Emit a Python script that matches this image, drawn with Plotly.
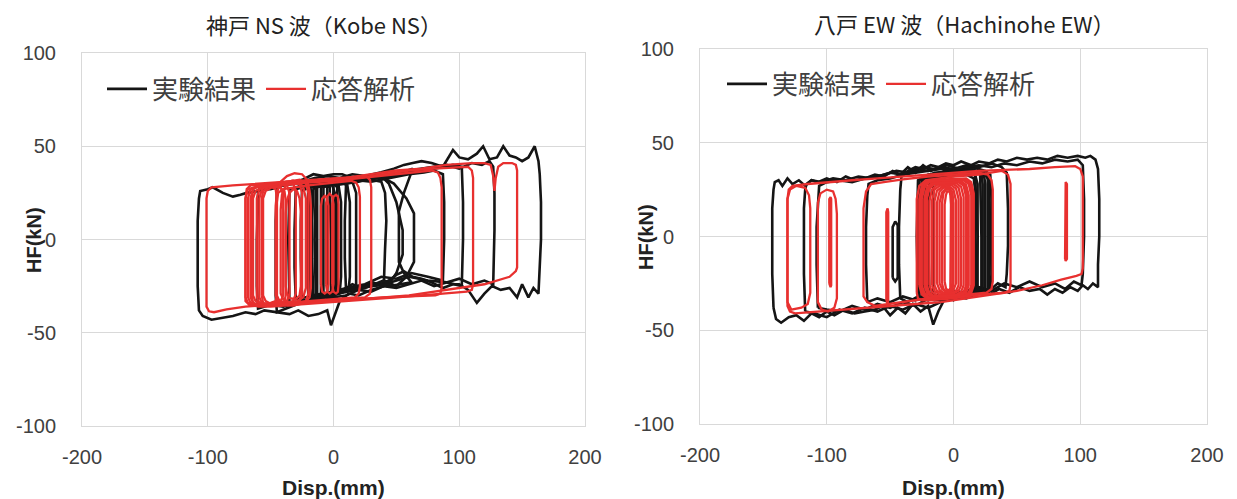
import plotly.graph_objects as go

# ---------------- Kobe NS : experiment (black) ----------------
kobe_exp_1 = [(40,-25),(30,-27),(20,-30),(12,-29),(5,-33),(-2,-46),(-5,-38),(-12,-40),(-20,-41),(-28,-38),(-35,-40),(-45,-39),(-55,-38),(-62,-40),(-70,-39),(-80,-41),(-90,-42),(-97,-43),(-104,-41),(-107,-38),(-108,-25),(-108,-5),(-108,10),(-107,22),(-106,26),(-100,27),(-96,28),(-88,25),(-80,23),(-74,24),(-69,25),(-60,26),(-53,27),(-45,28),(-35,30),(-25,32),(-16,35),(-8,34),(0,35),(7,35),(14,33),(22,34),(30,32),(38,31),(41,25),(42,10),(41,-5),(40,-20),(40,-25)]
kobe_exp_2 = [(-45,29),(-35,30),(-25,31),(-15,33),(-5,34),(5,33),(15,35),(25,34),(38,36),(48,38),(56,40),(63,41),(70,42),(78,41),(87,39),(95,48),(100,44),(107,43),(114,46),(119,50),(124,43),(130,44),(135,50),(140,45),(145,44),(150,42),(155,44),(160,50),(163,42),(164,35),(165,20),(165,0),(164,-15),(163,-25),(163,-29),(159,-26),(155,-31),(150,-24),(146,-31),(140,-26),(133,-27),(126,-25),(120,-29),(114,-34),(107,-27),(100,-24),(95,-24),(87,-26),(78,-23),(70,-21),(63,-20),(56,-17),(50,-19),(44,-22),(37,-24),(30,-23),(22,-26),(15,-24),(8,-27),(0,-29),(-8,-31),(-15,-30),(-22,-33),(-30,-35),(-38,-37),(-45,-39),(-46,-30),(-46,-10),(-46,10),(-45,25),(-45,29)]
kobe_exp_3 = [(-60,27),(-50,27),(-40,29),(-30,30),(-20,31),(0,31),(10,33),(20,32),(30,33),(40,34),(50,35),(60,37),(70,38),(80,39),(90,40),(100,38),(110,41),(118,40),(124,42),(127,39),(128,25),(128,5),(127,-15),(127,-24),(120,-22),(110,-24),(100,-21),(90,-23),(80,-25),(70,-22),(60,-24),(50,-26),(40,-25),(30,-28),(20,-27),(10,-30),(0,-31),(-10,-33),(-20,-32),(-30,-34),(-40,-36),(-50,-35),(-60,-37),(-61,-25),(-61,0),(-60,20),(-60,27)]
kobe_exp_4 = [(-30,27),(-15,30),(0,30),(15,32),(30,31),(45,33),(60,35),(72,36),(80,37),(87,35),(88,20),(88,0),(87,-15),(87,-22),(75,-20),(62,-18),(50,-21),(38,-20),(25,-24),(10,-26),(0,-28),(-15,-30),(-30,-32),(-31,-15),(-31,5),(-30,27)]
kobe_exp_5 = [(-20,28),(0,31),(20,33),(37,34),(48,30),(58,22),(64,14),(64,-12),(58,-20),(50,-25),(40,-22),(25,-26),(10,-28),(0,-29),(-20,-31),(-21,-10),(-21,10),(-20,28)]
kobe_exp_6 = [(10,30),(30,33),(50,35),(63,38),(56,25),(52,15),(52,-12),(56,-18),(62,-23),(45,-25),(30,-24),(10,-28),(9,-10),(9,10),(10,30)]
kobe_exp_7 = [(-18,28),(0,30),(20,32),(40,33),(60,36),(80,38),(95,40),(102,39),(103,20),(103,0),(102,-20),(102,-25),(90,-23),(75,-22),(60,-20),(45,-23),(30,-25),(15,-26),(0,-28),(-18,-30),(-19,-10),(-19,10),(-18,28)]
kobe_exp_8 = [(-25,-33),(-26,-10),(-26,10),(-25,26),(-20,28),(-12,30),(-4,31),(5,31),(11,29),(13,20),(13,0),(13,-20),(12,-27),(5,-29),(-5,-31),(-15,-32),(-25,-33)]
kobe_exp_9 = [(-16,-32),(-17,-10),(-17,10),(-16,27),(-10,29),(-2,30),(4,29),(6,20),(6,0),(6,-20),(5,-28),(-2,-30),(-10,-31),(-16,-32)]
kobe_exp_10 = [(-13,-31),(-13,0),(-13,28),(-8,29),(-1,29),(1,25),(1,0),(1,-27),(-4,-30),(-13,-31)]
kobe_exp_11 = [(-10,-30),(-10,0),(-10,28),(-6,29),(-3,28),(-2,0),(-2,-29),(-6,-30),(-10,-30)]
kobe_exp_12 = [(-8,-30),(-8,28),(0,30),(3,28),(3,-28),(0,-30),(-8,-30)]
kobe_exp_13 = [(-14,-33),(-15,0),(-14,29),(-7,30),(-5,28),(-5,-29),(-8,-31),(-14,-33)]
kobe_exp_14 = [(-35,-35),(-36,0),(-35,27),(-25,29),(-10,31),(5,32),(15,31),(18,25),(18,-25),(10,-28),(-10,-31),(-25,-33),(-35,-35)]
kobe_exp_15 = [(0,29),(20,31),(38,34),(44,30),(50,20),(55,5),(55,-8),(50,-18),(44,-24),(30,-25),(15,-27),(0,-29),(-1,0),(0,29)]

# ---------------- Kobe NS : analysis (red) ----------------
kobe_ana_1 = [(-101,-30),(-101,22),(-100,26),(-97,28),(-80,29),(-60,30),(-40,31),(-20,32),(0,33),(20,34),(26,34),(29,32),(30,28),(30,-25),(29,-29),(25,-31),(10,-32),(-10,-33),(-30,-34),(-50,-35),(-70,-36),(-85,-37.5),(-95,-39),(-99,-38.5),(-101,-36),(-101,-30)]
kobe_ana_2 = [(-70,-30),(-70,22),(-69,27),(-66,29),(-50,30),(-30,31),(-10,32),(10,33),(30,35),(50,37),(70,38),(90,40),(110,41),(120,41),(125,40),(127,34),(128,26),(129,33),(131,39),(135,41),(142,41),(145,40),(146,37),(146,-15),(145,-17),(140,-20),(120,-24),(100,-26),(80,-28),(60,-30),(40,-31),(20,-32),(0,-33),(-20,-34),(-40,-35),(-60,-35.5),(-67,-35),(-70,-33),(-70,-30)]
kobe_ana_3 = [(-65,-30),(-65,22),(-64,27),(-60,28.5),(-40,30),(-20,31),(0,32),(20,33),(40,35),(60,37),(80,38),(100,39),(107,39),(110,37),(111,33),(111,-24),(110,-27),(106,-28),(90,-29),(70,-30),(50,-31),(30,-32),(10,-33),(-10,-34),(-30,-35),(-50,-36),(-60,-36),(-64,-34),(-65,-30)]
kobe_ana_4 = [(-57,-30),(-57,22),(-56,26),(-52,28),(-40,29),(-20,30.5),(0,31.5),(20,33),(40,34.5),(60,36),(78,37),(83,36),(85,33),(86,28),(86,-26),(85,-29),(81,-30),(60,-30.5),(40,-31),(20,-32),(0,-33),(-20,-34),(-40,-35),(-52,-35.5),(-56,-34),(-57,-31),(-57,-30)]
kobe_ana_5 = [(-45,-28),(-45,20),(-44,25),(-40,27),(-20,29),(0,30.5),(14,31.5),(18,30.5),(20,28),(21,23),(21,-25),(20,-29),(17,-31),(0,-32),(-20,-33),(-38,-34),(-43,-33),(-45,-30),(-45,-28)]
kobe_ana_6 = [(-70,-28),(-70,22),(-68,27),(-63,28),(-47,29),(-42,28),(-40,24),(-40,-30),(-42,-33),(-48,-34),(-63,-35),(-68,-34),(-70,-31),(-70,-28)]
kobe_ana_7 = [(-68,-28),(-68,22),(-66,27),(-61,28.5),(-42,30),(-37,29),(-35,25),(-35,-29),(-37,-33),(-43,-34),(-61,-35),(-66,-34),(-68,-31),(-68,-28)]
kobe_ana_8 = [(-66,-28),(-66,22),(-64,27),(-59,29),(-37,31),(-32,30),(-30,26),(-30,-29),(-32,-33),(-38,-34.5),(-59,-35),(-64,-34),(-66,-31),(-66,-28)]
kobe_ana_9 = [(-64,-28),(-64,22),(-62,26),(-57,28),(-50,28.5),(-46,27),(-45,22),(-45,-30),(-46,-33),(-50,-34),(-57,-34.5),(-62,-33),(-64,-30),(-64,-28)]
kobe_ana_10 = [(-61,-28),(-61,22),(-59,27),(-54,29),(-32,31.5),(-27,30),(-25,25),(-25,-29),(-27,-33),(-33,-34.5),(-54,-35),(-59,-34),(-61,-31),(-61,-28)]
kobe_ana_11 = [(-59,-28),(-59,22),(-57,27),(-52,29),(-27,32),(-22,30),(-20,25),(-20,-29),(-22,-33),(-28,-34.5),(-52,-35),(-57,-34),(-59,-31),(-59,-28)]
kobe_ana_12 = [(-56,-28),(-56,22),(-54,26),(-49,28),(-43,28),(-39,26),(-38,21),(-38,-30),(-39,-33),(-43,-34),(-50,-34.5),(-54,-33),(-56,-30),(-56,-28)]
kobe_ana_13 = [(-46,-27),(-46,18),(-45,25),(-42,31),(-37,34),(-31,35.5),(-25,35),(-21,32),(-19,26),(-18,18),(-18,-26),(-19,-31),(-23,-34),(-32,-35.5),(-40,-35),(-44,-33),(-46,-30),(-46,-27)]
kobe_ana_14 = [(-42,-26),(-42,16),(-41,24),(-38,29),(-33,31.5),(-28,31),(-24,28),(-22,22),(-22,-26),(-24,-31),(-29,-33),(-36,-33.5),(-40,-32),(-42,-29),(-42,-26)]
kobe_ana_15 = [(-38,-25),(-38,14),(-37,21),(-35,25),(-32,27),(-29,26),(-27,22),(-26,15),(-26,-25),(-27,-30),(-30,-32),(-35,-31.5),(-37,-29),(-38,-25)]
kobe_ana_16 = [(-10,-24),(-10,18),(-9,22),(-7,23.5),(-5,22),(-4,18),(-4,-24),(-5,-28),(-7,-29),(-9,-28),(-10,-24)]
kobe_ana_17 = [(-6,-24),(-6,19),(-5,23),(-3,24.5),(-1,23),(0,19),(0,-24),(-1,-28),(-3,-29),(-5,-28),(-6,-24)]
kobe_ana_18 = [(-1,-24),(-1,19),(0,23),(2,24),(3.5,23),(4,19),(4,-24),(3.5,-28),(2,-29),(0,-28),(-1,-24)]

# ---------------- Hachinohe EW : experiment (black) ----------------
hachi_exp_1 = [(-142,-38),(-143,-20),(-143,0),(-143,15),(-142,25),(-141,29),(-138,30),(-135,27),(-131,31),(-127,28),(-122,30),(-117,27),(-112,30),(-107,29),(-100,31),(-92,29),(-85,32),(-78,30),(-70,31),(-62,33),(-55,32),(-48,35),(-42,33),(-36,37),(-30,34),(-24,38),(-18,35),(-12,37),(-6,35),(0,36),(6,34),(12,35),(17,33),(18,20),(19,0),(18,-20),(18,-30),(12,-32),(6,-30),(0,-34),(-6,-32),(-12,-40),(-16,-47),(-20,-37),(-26,-40),(-32,-36),(-38,-41),(-44,-38),(-50,-42),(-56,-37),(-62,-39),(-70,-40),(-78,-41),(-86,-39),(-94,-42),(-100,-40),(-106,-43),(-112,-41),(-118,-45),(-124,-42),(-130,-43),(-136,-46),(-140,-44),(-142,-38)]
hachi_exp_2 = [(-117,-40),(-118,-20),(-118,0),(-118,15),(-117,25),(-116,28),(-112,30),(-105,29),(-95,31),(-85,30),(-75,32),(-65,31),(-55,33),(-45,35),(-35,34),(-25,37),(-15,36),(-5,38),(5,36),(15,37),(25,35),(29,33),(30,20),(30,0),(30,-20),(29,-28),(20,-30),(10,-33),(0,-32),(-10,-35),(-20,-38),(-30,-36),(-40,-39),(-50,-37),(-60,-40),(-70,-38),(-80,-41),(-90,-39),(-100,-43),(-110,-41),(-117,-40)]
hachi_exp_3 = [(-107,-38),(-108,-15),(-108,5),(-107,20),(-106,27),(-100,29),(-90,30),(-80,29),(-70,31),(-60,32),(-50,34),(-40,33),(-30,36),(-20,35),(-10,37),(0,36),(10,38),(20,37),(30,39),(38,37),(42,34),(43,15),(43,-5),(42,-20),(41,-27),(35,-25),(28,-29),(20,-27),(10,-31),(0,-30),(-10,-34),(-20,-33),(-30,-37),(-40,-35),(-50,-38),(-60,-36),(-70,-39),(-80,-37),(-90,-40),(-100,-39),(-107,-38)]
hachi_exp_4 = [(-68,-35),(-69,-15),(-69,5),(-68,22),(-67,28),(-60,30),(-50,31),(-40,33),(-30,34),(-20,35),(-10,36),(0,36),(10,37),(20,38),(30,37),(40,39),(50,38),(60,40),(70,39),(80,41),(90,40),(98,41),(102,38),(103,20),(103,0),(102,-20),(101,-26),(95,-24),(88,-28),(80,-25),(70,-27),(60,-24),(50,-27),(40,-25),(30,-29),(20,-27),(10,-30),(0,-29),(-10,-32),(-20,-30),(-30,-34),(-40,-32),(-50,-35),(-60,-33),(-68,-35)]
hachi_exp_5 = [(-42,-33),(-43,-15),(-43,5),(-42,25),(-41,32),(-36,35),(-30,37),(-24,36),(-18,38),(-12,37),(-6,39),(0,38),(6,40),(14,38),(20,40),(28,39),(35,41),(42,40),(50,42),(58,41),(66,42),(74,41),(82,43),(90,42),(98,43),(104,42),(108,43),(112,41),(114,36),(115,20),(115,0),(114,-15),(114,-27),(110,-25),(106,-28),(102,-26),(98,-29),(92,-27),(86,-30),(80,-28),(74,-31),(68,-28),(60,-29),(52,-27),(44,-30),(36,-28),(28,-31),(20,-29),(12,-32),(4,-30),(-4,-33),(-12,-31),(-20,-34),(-28,-32),(-36,-35),(-42,-33)]
hachi_exp_6 = [(-48,-22),(-48,5),(-46,8),(-44,6),(-44,-22),(-46,-24),(-48,-22)]
hachi_exp_7 = [(-28,-32),(-29,0),(-28,30),(-20,33),(-5,34),(10,35),(24,34),(28,30),(29,0),(28,-30),(15,-31),(0,-33),(-15,-34),(-28,-32)]
hachi_exp_8 = [(-25,-33),(-26,0),(-25,31),(-15,34),(0,35),(15,36),(21,34),(22,0),(22,-30),(10,-31),(-5,-33),(-25,-33)]
hachi_exp_9 = [(-22,-33),(-22,0),(-22,30),(-10,33),(5,34),(17,33),(19,28),(19,-28),(10,-31),(-5,-32),(-22,-33)]
hachi_exp_10 = [(-19,-32),(-20,0),(-19,30),(-5,33),(15,34),(24,33),(25,28),(25,-28),(15,-30),(0,-31),(-19,-32)]
hachi_exp_11 = [(-16,-32),(-16,0),(-16,29),(-5,32),(10,33),(16,31),(17,25),(17,-27),(8,-30),(-5,-31),(-16,-32)]
hachi_exp_12 = [(-24,-34),(-24,0),(-24,31),(-10,34),(10,35),(22,34),(23,28),(23,-28),(10,-31),(-8,-33),(-24,-34)]
hachi_exp_13 = [(-27,-33),(-27,0),(-27,30),(-12,33),(8,34),(20,34),(27,32),(27,-29),(14,-31),(-6,-33),(-27,-33)]

# ---------------- Hachinohe EW : analysis (red) ----------------
hachi_ana_1 = [(-131,-35),(-131,20),(-130,25),(-127,27),(-115,28),(-100,29),(-80,30),(-60,31),(-40,32),(-20,33),(0,34),(20,35),(40,35.5),(60,36),(80,37),(96,37.5),(100,36),(102,32),(102,-17),(101,-20),(97,-21),(85,-23),(70,-26),(50,-29),(30,-31),(10,-33),(-10,-35),(-30,-36),(-50,-37),(-70,-38),(-90,-39),(-110,-40),(-125,-41),(-129,-40),(-131,-37),(-131,-35)]
hachi_ana_2 = [(-131,-30),(-131,20),(-129,25),(-124,27),(-117,26),(-114,22),(-113,15),(-113,-30),(-115,-36),(-120,-38),(-128,-39),(-131,-35),(-131,-30)]
hachi_ana_3 = [(-107,-30),(-107,18),(-105,23),(-100,25),(-95,24),(-93,20),(-92,12),(-92,-33),(-94,-38),(-99,-40),(-104,-39),(-107,-35),(-107,-30)]
hachi_ana_4 = [(-98,-25),(-98,20),(-97,21),(-96.5,20),(-96.5,-26),(-97,-27),(-98,-25)]
hachi_ana_5 = [(-71,-30),(-71,15),(-69,24),(-65,28),(-55,29),(-40,30.5),(-20,32),(0,33),(20,34),(27,33),(30,30),(31,25),(31,-24),(30,-28),(26,-30),(10,-31),(-10,-32),(-30,-34),(-50,-36),(-62,-37),(-68,-35),(-71,-32),(-71,-30)]
hachi_ana_6 = [(-53,-34),(-53,13),(-52,15),(-51.5,13),(-51.5,-34),(-52,-36),(-53,-34)]
hachi_ana_7 = [(-29,-30),(-29,20),(-27,27),(-22,30),(0,32),(20,33),(38,35),(43,33),(45,28),(45,-26),(44,-29),(40,-30),(20,-31),(0,-33),(-20,-34),(-25,-34),(-28,-33),(-29,-30)]
hachi_ana_8 = [(88,-12),(88,28),(88.5,29),(89.5,28),(89.5,-12),(88.5,-13),(88,-12)]
hachi_ana_9 = [(-27,-26),(-27,20),(-25,27),(-21,30),(10,31),(14,29),(16,23),(16,-26),(14,-30),(10,-32),(-21,-33),(-25,-31),(-27,-26)]
hachi_ana_10 = [(-25,-26),(-25,20),(-23,26),(-19,29),(8,30),(12,28),(14,22),(14,-26),(12,-30),(8,-31.5),(-19,-32.5),(-23,-30),(-25,-26)]
hachi_ana_11 = [(-23,-26),(-23,20),(-21,26),(-17,28.5),(6,29.5),(10,27.5),(12,22),(12,-26),(10,-30),(6,-31.5),(-17,-32),(-21,-30),(-23,-26)]
hachi_ana_12 = [(-21,-26),(-21,20),(-19,25.5),(-15,28),(4,29),(8,27),(10,21),(10,-26),(8,-29.5),(4,-31),(-15,-32),(-19,-30),(-21,-26)]
hachi_ana_13 = [(-19,-26),(-19,19),(-17,25),(-13,27.5),(2,28.5),(6,26.5),(8,21),(8,-26),(6,-29.5),(2,-31),(-13,-31.5),(-17,-29.5),(-19,-26)]
hachi_ana_14 = [(-17,-26),(-17,19),(-15,25),(-11,27),(0,28),(4,26),(6,20),(6,-26),(4,-29),(0,-30.5),(-11,-31),(-15,-29),(-17,-26)]
hachi_ana_15 = [(-15,-26),(-15,19),(-13,24.5),(-9,26.5),(-2,27.5),(2,25.5),(4,20),(4,-26),(2,-29),(-2,-30),(-9,-30.5),(-13,-29),(-15,-26)]
hachi_ana_16 = [(-13,-25),(-13,18),(-11,24),(-8,26),(-3,26.5),(0,25),(2,19),(2,-25),(0,-28.5),(-3,-29.5),(-8,-30),(-11,-28.5),(-13,-25)]
hachi_ana_17 = [(-11,-25),(-11,18),(-9,23.5),(-6,25.5),(-3,25.5),(-1,24),(0,18),(0,-25),(-1,-28),(-3,-29),(-6,-29.5),(-9,-28),(-11,-25)]
hachi_ana_18 = [(-9,-25),(-9,18),(-8,23),(-6,25),(-3,25),(-2,23),(-1,18),(-1,-25),(-2,-28),(-3,-29),(-6,-29),(-8,-28),(-9,-25)]
hachi_ana_19 = [(-7,-24),(-7,17),(-6,22),(-5,24),(-3,24),(-2.5,22),(-2,17),(-2,-24),(-2.5,-27.5),(-3,-28.5),(-5,-28.5),(-6,-27.5),(-7,-24)]
hachi_ana_20 = [(-26,-26),(-26,20),(-24,26.5),(-20,29.5),(9,30.5),(13,28.5),(15,22.5),(15,-26),(13,-30),(9,-31.8),(-20,-32.8),(-24,-30.5),(-26,-26)]
hachi_ana_21 = [(-22,-26),(-22,20),(-20,26),(-16,28.2),(5,29.2),(9,27.2),(11,21.5),(11,-26),(9,-29.8),(5,-31.2),(-16,-32),(-20,-30),(-22,-26)]

kobe_exp_loops = [kobe_exp_1, kobe_exp_2, kobe_exp_3, kobe_exp_4, kobe_exp_5, kobe_exp_6, kobe_exp_7,
                  kobe_exp_8, kobe_exp_9, kobe_exp_10, kobe_exp_11, kobe_exp_12, kobe_exp_13, kobe_exp_14,
                  kobe_exp_15]
kobe_ana_loops = [kobe_ana_1, kobe_ana_2, kobe_ana_3, kobe_ana_4, kobe_ana_5, kobe_ana_6, kobe_ana_7,
                  kobe_ana_8, kobe_ana_9, kobe_ana_10, kobe_ana_11, kobe_ana_12, kobe_ana_13, kobe_ana_14,
                  kobe_ana_15, kobe_ana_16, kobe_ana_17, kobe_ana_18]
hachi_exp_loops = [hachi_exp_1, hachi_exp_2, hachi_exp_3, hachi_exp_4, hachi_exp_5, hachi_exp_6, hachi_exp_7,
                   hachi_exp_8, hachi_exp_9, hachi_exp_10, hachi_exp_11, hachi_exp_12, hachi_exp_13]
hachi_ana_loops = [hachi_ana_1, hachi_ana_2, hachi_ana_3, hachi_ana_4, hachi_ana_5, hachi_ana_6, hachi_ana_7,
                   hachi_ana_8, hachi_ana_9, hachi_ana_10, hachi_ana_11, hachi_ana_12, hachi_ana_13, hachi_ana_14,
                   hachi_ana_15, hachi_ana_16, hachi_ana_17, hachi_ana_18, hachi_ana_19, hachi_ana_20, hachi_ana_21]

series_names = ["実験結果", "応答解析"]
titles = ["神戸 NS 波（Kobe NS）", "八戸 EW 波（Hachinohe EW）"]
x_ticks = [-200, -100, 0, 100, 200]
x_tick_text = ["-200", "-100", "0", "100", "200"]
y_ticks = [-100, -50, 0, 50, 100]
y_tick_text = ["-100", "-50", "0", "50", "100"]


def flatten(loops):
    xs, ys = [], []
    for lp in loops:
        for px, py in lp:
            xs.append(px)
            ys.append(py)
        xs.append(None)
        ys.append(None)
    return xs, ys


BLACK = "#151515"
RED = "#e8302f"
GRID = "#d9d9d9"
TXT = "#404040"
CJK = "Noto Sans CJK JP"
LAT = "Liberation Sans"

fig = go.Figure()
panels = [
    ("x", "y", "legend", kobe_exp_loops, kobe_ana_loops),
    ("x2", "y2", "legend2", hachi_exp_loops, hachi_ana_loops),
]
for xa, ya, lg, exp_loops, ana_loops in panels:
    ex, ey = flatten(exp_loops)
    ax_, ay_ = flatten(ana_loops)
    fig.add_trace(go.Scatter(x=ex, y=ey, mode="lines", name=series_names[0],
                             line=dict(color=BLACK, width=2.6), xaxis=xa, yaxis=ya,
                             legend=lg, connectgaps=False, hoverinfo="skip"))
    fig.add_trace(go.Scatter(x=ax_, y=ay_, mode="lines", name=series_names[1],
                             line=dict(color=RED, width=2.3), xaxis=xa, yaxis=ya,
                             legend=lg, connectgaps=False, hoverinfo="skip"))

W, H = 1237, 499


def xaxis_cfg(x0, x1, anchor):
    return dict(domain=[x0 / W, x1 / W], anchor=anchor, range=[-200, 200],
                tickvals=x_ticks, ticktext=x_tick_text, showgrid=True, gridcolor=GRID, gridwidth=1,
                showline=True, linecolor=GRID, linewidth=1, mirror=True,
                zeroline=False, ticks="", ticklabelstandoff=13,
                tickfont=dict(family=LAT, size=20, color=TXT), automargin=False)


def yaxis_cfg(top, bottom, anchor):
    return dict(domain=[(H - bottom) / H, (H - top) / H], anchor=anchor, range=[-100, 100],
                tickvals=y_ticks, ticktext=y_tick_text, showgrid=True, gridcolor=GRID, gridwidth=1,
                showline=True, linecolor=GRID, linewidth=1, mirror=True,
                zeroline=False, ticks="", ticklabelstandoff=21,
                tickfont=dict(family=LAT, size=20, color=TXT), automargin=False)


legend_common = dict(orientation="h", bgcolor="rgba(0,0,0,0)", borderwidth=0,
                     font=dict(family=CJK, size=26, color=TXT),
                     xanchor="left", yanchor="middle", itemwidth=40, tracegroupgap=0)

fig.update_layout(
    width=W, height=H,
    margin=dict(l=0, r=0, t=0, b=0),
    paper_bgcolor="white", plot_bgcolor="white",
    xaxis=xaxis_cfg(82, 585, "y"),
    yaxis=yaxis_cfg(53, 426, "x"),
    xaxis2=xaxis_cfg(700, 1207, "y2"),
    yaxis2=yaxis_cfg(49, 424, "x2"),
    legend=dict(x=102 / W, y=(H - 89) / H, **legend_common),
    legend2=dict(x=722 / W, y=(H - 84) / H, **legend_common),
    showlegend=True,
)

annots = [
    dict(text=titles[0], x=324 / W, y=(H - 24) / H, font=dict(family=CJK, size=22, color="#222")),
    dict(text=titles[1], x=964 / W, y=(H - 23) / H, font=dict(family=CJK, size=22, color="#222")),
    dict(text="<b>Disp.(mm)</b>", x=333 / W, y=(H - 487) / H, font=dict(family=LAT, size=21, color="#222")),
    dict(text="<b>Disp.(mm)</b>", x=953 / W, y=(H - 487) / H, font=dict(family=LAT, size=21, color="#222")),
    dict(text="<b>HF(kN)</b>", x=34 / W, y=(H - 240) / H, textangle=-90, font=dict(family=LAT, size=20, color="#222")),
    dict(text="<b>HF(kN)</b>", x=646 / W, y=(H - 237) / H, textangle=-90, font=dict(family=LAT, size=20, color="#222")),
]
for a in annots:
    fig.add_annotation(xref="paper", yref="paper", showarrow=False,
                       xanchor="center", yanchor="middle", **a)

fig.write_html("out.html")
